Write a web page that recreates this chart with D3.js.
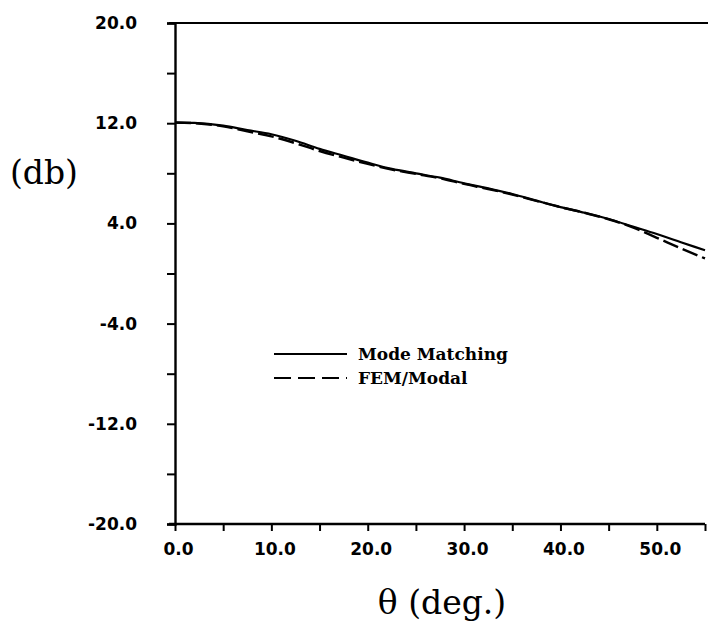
<!DOCTYPE html>
<html>
<head>
<meta charset="utf-8">
<script src="https://cdn.jsdelivr.net/npm/d3@7"></script>
<style>
  html, body { margin: 0; padding: 0; background: #fff; }
  svg { display: block; }
</style>
</head>
<body>
<svg id="chart" width="708" height="625"></svg>
<script>
// ---- data ----
const theta = [0, 2, 5, 7.5, 10, 12.5, 15, 17.5, 20, 22.5, 25, 27.5, 30, 32.5, 35, 37.5, 40, 42.5, 45, 47.5, 50, 52.5, 55];
const modeMatching = [12.05, 12.02, 11.8, 11.45, 11.12, 10.6, 9.95, 9.4, 8.85, 8.35, 8.0, 7.65, 7.2, 6.8, 6.35, 5.82, 5.3, 4.85, 4.35, 3.75, 3.15, 2.5, 1.85];
const femModal = [12.05, 12.0, 11.75, 11.35, 10.95, 10.4, 9.78, 9.25, 8.75, 8.3, 7.95, 7.6, 7.15, 6.75, 6.3, 5.8, 5.3, 4.85, 4.33, 3.68, 2.85, 2.0, 1.2];
const xTicks = [0, 5, 10, 15, 20, 25, 30, 35, 40, 45, 50, 55];
const xTickLabels = ["0.0", "", "10.0", "", "20.0", "", "30.0", "", "40.0", "", "50.0", ""];
const yTicks = [-20, -16, -12, -8, -4, 0, 4, 8, 12, 16, 20];
const yTickLabels = ["-20.0", "", "-12.0", "", "-4.0", "", "4.0", "", "12.0", "", "20.0"];
const seriesNames = ["Mode Matching", "FEM/Modal"];

// ---- layout ----
const svg = d3.select("#chart");
const W = 708;
const x = d3.scaleLinear().domain([0, 55]).range([175, 705]);
const y = d3.scaleLinear().domain([-20, 20]).range([524, 23]);

const tickFont = "'DejaVu Sans', sans-serif";
const serif = "'DejaVu Serif', serif";

// top frame line at y = 20
svg.append("line")
  .attr("x1", x(0) - 6).attr("x2", W)
  .attr("y1", y(20)).attr("y2", y(20))
  .attr("stroke", "#000").attr("stroke-width", 2.2);

// y axis
const yAxis = d3.axisLeft(y)
  .tickValues(yTicks)
  .tickSize(8)
  .tickPadding(30)
  .tickFormat((d, i) => yTickLabels[i]);
const gy = svg.append("g").attr("transform", `translate(${x(0)},0)`).call(yAxis);
gy.select(".domain").attr("stroke-width", 2.4);
gy.selectAll(".tick line").attr("stroke-width", 2);
gy.selectAll(".tick text")
  .attr("font-family", tickFont).attr("font-weight", "bold")
  .attr("font-size", 17).attr("fill", "#000");

// x axis
const xAxis = d3.axisBottom(x)
  .tickValues(xTicks)
  .tickSize(7)
  .tickPadding(12)
  .tickFormat((d, i) => xTickLabels[i]);
const gx = svg.append("g").attr("transform", `translate(0,${y(-20)})`).call(xAxis);
gx.select(".domain").attr("stroke-width", 2.4).attr("d", `M${x(0) - 6},0H${x(55)}`);
gx.selectAll(".tick line").attr("stroke-width", 2);
gx.selectAll(".tick text")
  .attr("font-family", tickFont).attr("font-weight", "bold")
  .attr("font-size", 17).attr("fill", "#000")
  .attr("dx", 3);

// axis titles
svg.append("text")
  .attr("x", 10).attr("y", 184)
  .attr("font-family", serif).attr("font-size", 33)
  .attr("fill", "#000")
  .text("(db)");
svg.append("text")
  .attr("x", 442).attr("y", 614)
  .attr("text-anchor", "middle")
  .attr("font-family", serif).attr("font-size", 33)
  .attr("fill", "#000")
  .text("θ (deg.)");

// curves
const line = d3.line().x(d => x(d[0])).y(d => y(d[1])).curve(d3.curveMonotoneX);
svg.append("path")
  .datum(theta.map((t, i) => [t, femModal[i]]))
  .attr("d", line)
  .attr("fill", "none").attr("stroke", "#000").attr("stroke-width", 2.4)
  .attr("stroke-dasharray", "16,5");
svg.append("path")
  .datum(theta.map((t, i) => [t, modeMatching[i]]))
  .attr("d", line)
  .attr("fill", "none").attr("stroke", "#000").attr("stroke-width", 2.2);

// legend
const leg = svg.append("g");
const legRows = [
  { name: seriesNames[0], dash: null, ly: 354 },
  { name: seriesNames[1], dash: "17,7", ly: 378 }
];
legRows.forEach(r => {
  leg.append("line")
    .attr("x1", 274).attr("x2", 347)
    .attr("y1", r.ly).attr("y2", r.ly)
    .attr("stroke", "#000").attr("stroke-width", 2)
    .attr("stroke-dasharray", r.dash);
  leg.append("text")
    .attr("x", 358).attr("y", r.ly + 6)
    .attr("font-family", serif).attr("font-weight", "bold")
    .attr("font-size", 17).attr("fill", "#000")
    .text(r.name);
});
</script>
</body>
</html>
